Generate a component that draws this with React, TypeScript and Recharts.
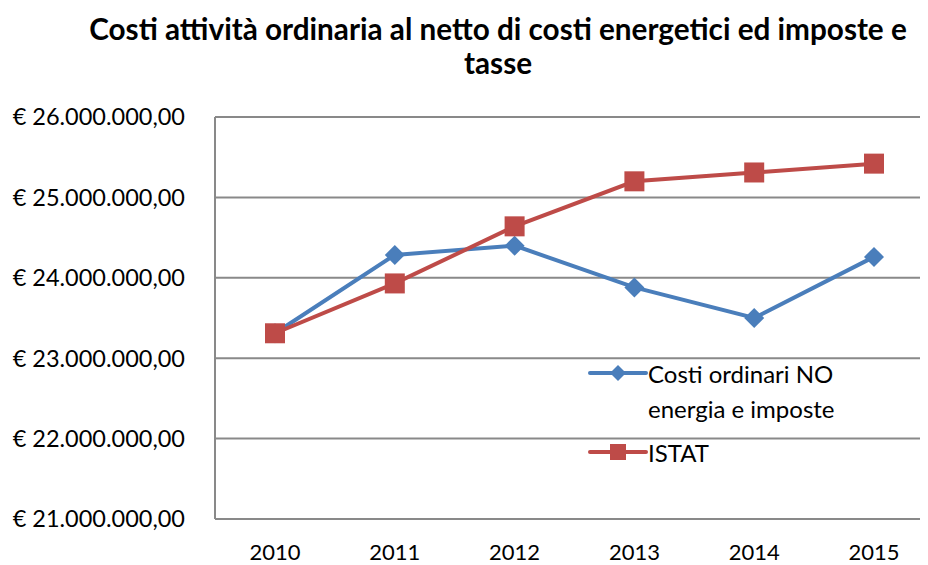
import React from 'react';
import { LineChart, Line, XAxis, YAxis, CartesianGrid, Legend } from 'recharts';

const years = ['2010', '2011', '2012', '2013', '2014', '2015'];
const costiOrdinari = [23310000, 24285000, 24400000, 23880000, 23500000, 24260000];
const istat = [23310000, 23930000, 24640000, 25200000, 25310000, 25420000];
const yTicks = [21000000, 22000000, 23000000, 24000000, 25000000, 26000000];
const seriesNames = ['Costi ordinari NO energia e imposte', 'ISTAT'];
const titleLines = ['Costi attività ordinaria al netto di costi energetici ed imposte e', 'tasse'];

const BLUE = '#4A7EBB';
const RED = '#BE4B48';
const GRID = '#898989';
const FONT = 'Lato, "Open Sans", sans-serif';

const data = years.map((y, i) => ({ year: y, costi: costiOrdinari[i], istat: istat[i] }));

const fmt = (v: number) => {
  const s = Math.round(v).toString().replace(/\B(?=(\d{3})+(?!\d))/g, '.');
  return '€ ' + s + ',00';
};

const Diamond = (props: any) => {
  const { cx, cy } = props;
  if (cx == null || cy == null) return null;
  const r = 10;
  return <polygon points={`${cx},${cy - r} ${cx + r},${cy} ${cx},${cy + r} ${cx - r},${cy}`} fill={BLUE} />;
};

const Square = (props: any) => {
  const { cx, cy } = props;
  if (cx == null || cy == null) return null;
  return <rect x={cx - 10} y={cy - 10} width={20} height={20} fill={RED} />;
};

const LegendContent = () => (
  <div style={{ fontFamily: FONT, fontSize: 24, color: '#000' }}>
    <div style={{ display: 'flex', alignItems: 'flex-start' }}>
      <svg width={60} height={35} style={{ flex: 'none' }}>
        <line x1={2} y1={17} x2={58} y2={17} stroke={BLUE} strokeWidth={4} strokeLinecap="round" />
        <polygon points="30,9 38,17 30,25 22,17" fill={BLUE} />
      </svg>
      <div style={{ lineHeight: '35px', width: 230 }}>{seriesNames[0]}</div>
    </div>
    <div style={{ display: 'flex', alignItems: 'flex-start', marginTop: 9 }}>
      <svg width={60} height={35} style={{ flex: 'none' }}>
        <line x1={2} y1={17} x2={58} y2={17} stroke={RED} strokeWidth={4} strokeLinecap="round" />
        <rect x={22} y={9} width={16} height={16} fill={RED} />
      </svg>
      <div style={{ lineHeight: '35px' }}>{seriesNames[1]}</div>
    </div>
  </div>
);

export default function App() {
  return (
    <div style={{ position: 'relative', width: 920, height: 557, overflow: 'hidden', background: '#fff' }}>
      <div
        style={{
          position: 'absolute',
          left: 0,
          top: 4,
          width: 980,
          textAlign: 'center',
          fontFamily: FONT,
          fontWeight: 700,
          fontSize: 29.7,
          lineHeight: '34px',
          color: '#000',
        }}
      >
        {titleLines[0]}
        <br />
        {titleLines[1]}
      </div>
      <LineChart
        width={930}
        height={557}
        data={data}
        margin={{ top: 109, right: 4, left: 0, bottom: 15 }}
        style={{ position: 'absolute', left: 0, top: 0 }}
      >
        <CartesianGrid horizontal vertical={false} stroke={GRID} strokeWidth={2} />
        <XAxis
          dataKey="year"
          padding={{ left: 60, right: 60 }}
          axisLine={{ stroke: GRID, strokeWidth: 2 }}
          tickLine={false}
          tickSize={0}
          tickMargin={25}
          height={31}
          tick={{ fill: '#000', fontSize: 22, fontFamily: FONT }}
        />
        <YAxis
          type="number"
          domain={[21000000, 26000000]}
          ticks={yTicks}
          interval={0}
          width={207}
          axisLine={{ stroke: GRID, strokeWidth: 2 }}
          tickLine={false}
          tickSize={0}
          tickMargin={30}
          tickFormatter={fmt}
          tick={{ fill: '#000', fontSize: 23.5, fontFamily: FONT }}
        />
        <Legend
          layout="horizontal"
          verticalAlign="middle"
          align="center"
          content={<LegendContent />}
          wrapperStyle={{ position: 'absolute', left: 580, top: 348, width: 300 }}
        />
        <Line
          dataKey="costi"
          name={seriesNames[0]}
          stroke={BLUE}
          strokeWidth={4}
          dot={<Diamond />}
          activeDot={false}
          isAnimationActive={false}
        />
        <Line
          dataKey="istat"
          name={seriesNames[1]}
          stroke={RED}
          strokeWidth={4}
          dot={<Square />}
          activeDot={false}
          isAnimationActive={false}
        />
      </LineChart>
    </div>
  );
}
